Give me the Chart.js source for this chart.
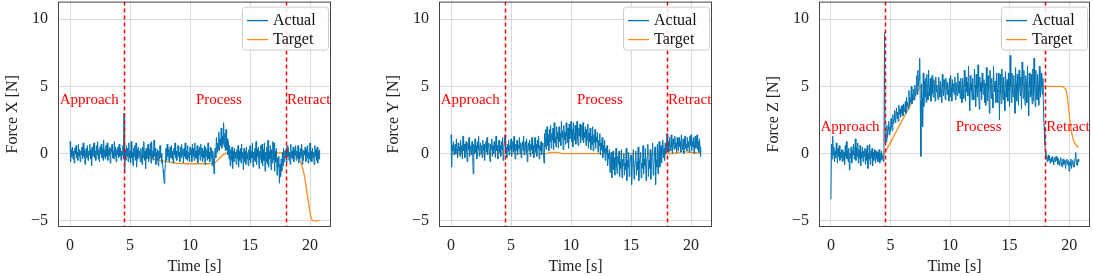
<!DOCTYPE html>
<html>
<head>
  <meta charset="UTF-8" />
  <title>Force tracking</title>
  <script src="https://cdn.jsdelivr.net/npm/chart.js@4.4.1/dist/chart.umd.min.js"></script>
  <style>
    body { margin: 0; background: #fff; width: 1093px; height: 276px; position: relative; overflow: hidden; }
    canvas { position: absolute; top: -18px; }
  </style>
</head>
<body>
  <canvas id="cx" style="left:0px" width="340" height="294"></canvas>
  <canvas id="cy" style="left:381px" width="340" height="294"></canvas>
  <canvas id="cz" style="left:761px" width="332" height="294"></canvas>
<script>
// sample times, 0.05 s apart
const time = Array.from({length: 417}, (_, i) => +(i * 0.05).toFixed(2));
const xTicks = [0, 5, 10, 15, 20];
const yTicks = [-5, 0, 5, 10];
const phaseLines = [4.5, 18.0];

const actualX = [
  0.9, -0.6, 0.3, -0.2, 0.5, -0.4, 0.2, -0.7, 0.4, 0.0, 0.6, -0.3, 0.1, -0.5, 0.7, -0.2, 0.3, -0.6, 0.2, -0.1,
  0.5, -0.4, 0.8, -0.2, 0.3, -0.8, 0.1, 0.4, -0.3, 0.6, -0.5, 0.2, -0.1, 0.7, -0.4, 0.3, -0.9, 0.5, -0.2, 0.4,
  0.8, -0.3, 0.2, -0.5, 0.6, -0.1, 0.9, -0.4, 0.3, -0.6, 0.5, 0.0, 0.7, -0.3, 0.4, -0.5, 1.0, -0.2, 0.3, -0.4,
  0.6, -0.2, 0.8, -0.5, 0.3, -0.1, 0.5, -0.7, 0.4, 0.1, 0.7, -0.3, 0.2, -0.4, 0.9, -0.2, 0.5, -0.6, 0.3, -0.1,
  0.5, -0.3, 0.7, -0.2, 0.4, -0.5, 0.2, -0.1, 0.6, -0.4, 3.0, -1.4, 0.3, -0.5, 0.6, -0.2, 0.4, -0.6, 0.8, -0.3,
  0.2, -0.7, 0.9, -0.3, 0.1, -0.9, 0.4, -0.2, 0.6, -0.5, 0.8, -1.0, 0.3, -0.4, 0.5, -0.1, 0.2, -0.6, 0.4, -0.2,
  -0.8, 0.5, -0.3, 0.9, -0.5, 0.2, -1.1, 0.4, -0.4, 0.1, 0.7, -0.6, 0.3, -0.2, 0.8, -0.7, 0.9, -0.3, 0.2, -0.5,
  1.0, -0.2, 0.4, -0.8, 0.1, -0.5, 0.3, -0.9, 0.2, -0.4, 0.6, -0.3, 0.0, -0.7, -0.5, -1.2, -1.6, -2.2, -1.4, -0.8,
  0.4, -0.5, 0.7, -0.2, 0.3, -0.6, 0.1, 0.5, -0.3, 0.6, -0.4, 0.2, -0.7, 0.4, -0.1, 0.8, -0.3, 0.2, -0.5, 0.3,
  0.6, -0.2, 0.1, -0.6, 0.5, -0.3, 0.7, -0.1, 0.3, -0.7, 0.4, -0.2, 0.8, -0.4, 0.2, -0.5, 0.6, -0.3, 0.1, -0.6,
  0.5, -0.1, 0.3, -0.6, 0.7, -0.2, 0.4, -0.5, 0.8, -0.3, 0.2, -0.4, 0.6, -0.7, 0.3, -0.1, 0.5, -0.5, 0.7, -0.2,
  0.4, -0.6, 0.2, -0.3, 0.6, -0.8, 0.5, -0.2, 0.3, -0.5, 0.8, -0.4, 0.1, -0.6, 0.5, -0.3, 0.4, -0.9, 0.2, -0.4,
  -1.5, -0.2, 0.4, -0.3, 1.2, 0.1, 0.8, 0.3, 1.6, 0.2, 1.1, 0.6, 1.9, 0.4, 1.3, 0.7, 2.3, 0.5, 1.5, 0.2,
  1.8, 0.3, 1.1, -0.1, 0.9, -0.4, 0.6, -0.9, 0.3, -0.5, 0.5, -1.1, 0.2, -0.6, 0.4, -0.3, 0.1, -0.8, 0.3, -0.4,
  0.6, -1.0, 0.2, -0.5, 0.4, -0.7, 0.7, -0.3, 0.1, -1.2, 0.4, -0.6, 0.2, -0.8, 0.5, -0.4, 0.0, -0.9, 0.3, -0.5,
  0.6, -0.7, 0.2, -0.3, 0.8, -1.0, 0.1, -0.5, 0.4, -0.6, 0.9, -0.8, 0.3, -0.2, 0.5, -1.1, 0.2, -0.4, 0.6, -0.7,
  0.7, -0.9, 0.3, -0.5, 0.8, -1.3, 0.1, -0.6, 0.5, -0.8, 1.0, -1.0, 0.2, -0.4, 0.6, -1.2, 0.3, -0.7, 0.9, -0.5,
  0.8, -1.3, 0.2, -0.6, 0.4, -1.6, -0.3, -1.0, -0.2, -2.2, -0.8, -1.7, -0.4, -1.3, 0.1, -0.9, 0.4, -0.6, 0.2, -0.3,
  0.3, -0.7, 0.6, -0.2, 0.4, -0.5, 0.1, -0.8, 0.7, -0.3, 0.2, -0.4, 0.5, -0.6, 0.3, -0.1, 0.6, -0.5, 0.2, -0.3,
  0.6, -0.7, 0.1, -0.4, 0.4, -0.2, 0.7, -0.8, 0.3, -0.5, 0.2, -0.1, 0.5, -0.6, 0.3, -0.3, 0.6, -0.7, 0.1, -0.4,
  0.8, -0.5, 0.2, -0.6, 0.4, -0.3, 0.1, -0.8, 0.6, -0.2, 0.3, -0.5, 0.5, -0.7, 0.2, -0.4, 0.3
];
const targetX = [
  [0, 0], [4.5, 0], [5, -0.05], [6, -0.2], [7, -0.4], [8, -0.6], [9, -0.72], [10, -0.75],
  [11, -0.75], [12, -0.72], [12.4, -0.4], [12.8, -0.05], [13.2, 0.05], [15, 0.05], [17, 0.05],
  [18.5, 0.02], [18.9, -0.2], [19.2, -0.6], [19.5, -1.5], [19.7, -2.6], [19.9, -3.8],
  [20.05, -4.6], [20.2, -4.95], [20.4, -5.0], [20.8, -4.95]
];

const actualY = [
  1.4, -1.0, 0.6, 0.2, 0.9, -0.1, 0.4, 0.7, 0.0, 1.1, 0.3, -0.3, 0.8, 0.2, 0.5, -0.2, 1.0, 0.1, 0.6, -0.4,
  1.3, 0.2, 0.7, -0.3, 0.5, 0.9, 0.1, -0.6, 0.8, 0.3, 1.2, -0.2, 0.4, 0.6, -0.1, 0.9, 0.2, -1.5, 0.7, 0.0,
  1.1, 0.1, 0.6, -0.4, 0.9, 0.3, 1.3, -0.2, 0.5, 0.8, 0.0, 0.6, -0.3, 1.0, 0.2, 0.7, -0.5, 0.4, 0.9, 0.1,
  1.2, -0.1, 0.5, 0.8, 0.2, -0.6, 0.7, 0.3, 1.1, -0.2, 0.6, 0.0, 0.9, 0.4, -0.3, 1.3, 0.2, 0.6, -0.4, 0.8,
  1.0, 0.1, 0.6, -0.2, 0.9, 0.3, 1.2, -0.5, 0.4, 0.8, 1.4, 0.0, 0.5, -0.3, 0.7, 0.2, 1.0, -0.1, 0.6, 0.3,
  1.1, -0.2, 0.5, 0.9, 0.1, 1.3, 0.3, -0.4, 0.7, 0.2, 1.0, -0.1, 0.6, 0.4, 1.2, 0.0, 0.8, -0.3, 0.5, 0.9,
  0.2, 1.3, -0.1, 0.6, 0.9, 0.1, 1.1, -0.6, 0.5, 0.8, 0.2, 1.0, -0.2, 0.7, 0.3, 1.2, 0.0, 0.6, -0.3, 0.9,
  1.2, 0.1, 0.7, -0.2, 1.0, 0.4, 1.3, -0.4, 0.6, 0.2, 0.9, -0.1, 0.5, 0.8, 0.0, -0.7, 1.5, 0.5, 1.8, 0.3,
  2.0, 0.6, 1.4, 0.2, 1.8, 0.9, 2.1, 0.4, 1.5, 1.0, 1.9, 0.3, 2.3, 0.8, 1.2, 0.5, 2.0, 1.1, 1.6, 0.4,
  2.0, 0.9, 1.5, 0.6, 2.4, 1.2, 1.7, 0.3, 2.1, 1.0, 1.6, 0.7, 2.3, 1.3, 0.8, 1.9, 0.4, 2.2, 1.1, 1.6,
  2.4, 0.9, 1.8, 0.5, 2.3, 1.4, 1.0, 2.1, 0.7, 1.6, 2.4, 1.1, 0.6, 1.9, 1.3, 2.2, 0.8, 1.5, 2.1, 1.0,
  2.3, 0.8, 1.6, 1.2, 2.0, 0.6, 1.8, 1.0, 2.2, 0.4, 1.5, 0.9, 1.9, 0.3, 1.3, 0.7, 2.0, 0.2, 1.4, 0.8,
  1.8, 0.4, 1.2, 0.9, 1.6, 0.1, 1.0, 0.6, 1.5, -0.1, 0.8, 0.3, 1.2, -0.3, 0.6, 0.1, 1.0, -0.5, 0.4, 0.0,
  0.6, -0.9, 0.0, -0.4, 0.3, -1.4, -0.5, 0.1, -1.8, -0.7, 0.2, -1.2, -0.3, -1.6, -0.6, 0.4, -1.0, -1.5, -0.2, -0.8,
  0.2, -1.7, -0.6, -1.1, 0.3, -1.8, -0.4, -0.9, 0.0, -1.6, -0.7, -1.2, 0.4, -2.0, -0.5, -1.0, 0.1, -1.7, -0.8, -0.3,
  -0.1, -2.3, -0.9, -0.4, 0.3, -1.9, -1.1, -0.5, 0.2, -1.6, -0.6, -1.2, 0.5, -2.0, -0.8, -0.3, 0.1, -1.8, -0.7, -1.1,
  0.6, -1.5, -0.4, -0.9, 0.4, -2.0, -0.7, -0.2, 0.7, -1.7, -0.5, -1.1, 0.3, -1.9, -0.6, 0.0, 0.8, -1.6, -0.8, -0.3,
  0.5, -2.3, -0.5, -1.0, 0.7, -1.5, -0.3, 0.9, -1.0, -0.2, 0.6, -0.7, 0.2, 1.0, -0.3, 0.4, -0.5, 0.8, 0.0, 0.3,
  1.5, 0.3, 0.9, 0.1, 1.2, 0.6, 0.2, 1.4, 0.5, 0.0, 1.1, 0.7, 0.3, 1.3, 0.4, 0.8, 0.1, 1.2, 0.6, 0.2,
  1.2, 0.5, 0.9, 0.1, 1.4, 0.6, 0.3, 1.1, 0.0, 0.8, 1.3, 0.4, 0.7, 0.2, 1.2, 0.5, 0.9, 0.1, 1.3, 0.6,
  1.4, 0.2, 0.9, 0.5, 1.2, 0.0, 0.8, 1.3, 0.4, 0.6, 1.4, 0.3, 0.9, 0.1, 1.1, 0.5, -0.2
];
const targetY = [
  [0, 0], [7.9, 0], [8.3, 0.1], [8.8, 0.1], [9.3, 0], [18, 0], [18.8, 0.05],
  [19.3, 0.15], [19.8, 0.12], [20.3, 0.05], [20.8, 0.05]
];

const actualZ = [
  -3.4, 0.7, -0.4, 1.3, -0.1, 0.5, -0.6, 0.2, -0.3, 0.8, 0.0, -0.7, 0.4, -0.2, 0.6, -0.5, 0.1, -0.3, 0.3, -0.6,
  0.3, -0.5, 0.1, -0.8, 0.6, -0.2, 0.9, -0.4, 0.2, -0.6, 0.4, -1.2, 0.0, -0.3, 0.5, -0.7, 0.2, -0.1, 0.7, -0.4,
  0.1, 1.1, -0.5, 0.4, -0.2, 0.8, -0.7, 0.3, -0.4, 0.6, -0.9, 0.1, -0.3, 0.5, -0.6, 0.2, -0.2, 0.4, -0.8, 0.3,
  -0.5, 0.6, -1.1, 0.0, -0.4, 0.7, -0.8, 0.2, -0.3, 0.4, -0.9, 0.1, -0.5, 0.3, -0.2, -0.7, 0.2, -0.4, 0.1, -0.6,
  -0.2, 0.3, -0.7, 0.0, -0.5, 0.2, -0.4, -0.1, -0.6, -0.3, 9.0, 0.8, 1.5, 0.9, 2.1, 1.2, 1.8, 2.4, 1.4, 2.0,
  1.6, 2.6, 2.0, 1.7, 2.9, 2.2, 2.5, 3.2, 2.3, 2.8, 3.4, 2.6, 3.1, 2.4, 3.6, 2.9, 3.3, 2.7, 3.5, 3.0,
  3.6, 2.8, 3.7, 3.1, 3.4, 3.9, 3.0, 4.2, 3.5, 3.8, 3.3, 4.7, 3.6, 4.1, 3.8, 5.0, 3.7, 4.4, 4.0, 4.8,
  4.0, 5.1, 4.3, 4.7, 5.8, 4.4, 6.2, 5.0, 5.5, 7.1, 3.9, -0.2, 5.2, 4.1, 2.0, 6.0, 3.5, 5.4, 4.2, 5.6,
  3.8, 5.9, 4.6, 4.0, 6.2, 4.9, 4.3, 5.6, 3.9, 5.2, 5.8, 4.5, 4.2, 5.5, 4.8, 3.9, 5.7, 4.6, 5.1, 4.4,
  4.0, 5.7, 4.9, 4.2, 5.4, 4.7, 3.8, 5.9, 5.0, 4.3, 5.5, 4.8, 4.0, 5.6, 5.1, 4.4, 5.3, 4.7, 3.9, 5.6,
  4.2, 5.8, 4.9, 3.9, 5.5, 4.6, 5.2, 4.4, 5.7, 4.0, 5.3, 4.8, 4.3, 6.0, 5.0, 4.5, 5.4, 4.1, 5.6, 4.7,
  3.8, 5.6, 4.8, 4.1, 6.2, 5.0, 3.9, 5.7, 4.6, 5.3, 4.3, 6.5, 4.9, 3.2, 5.8, 4.7, 5.2, 4.0, 5.6, 4.4,
  4.0, 6.3, 5.1, 3.5, 5.9, 4.8, 4.2, 6.6, 5.0, 3.3, 5.7, 4.6, 5.3, 4.0, 6.0, 4.9, 4.4, 5.5, 3.8, 5.2,
  3.6, 6.4, 5.0, 3.9, 5.8, 4.7, 3.0, 6.2, 5.2, 4.1, 5.6, 4.4, 3.4, 6.5, 5.1, 4.6, 5.4, 3.8, 6.0, 4.8,
  3.8, 6.0, 5.1, 2.5, 5.9, 4.5, 3.7, 6.3, 5.0, 4.0, 5.7, 4.6, 3.2, 6.1, 5.3, 4.2, 5.5, 3.9, 6.0, 4.7,
  3.5, 7.3, 5.0, 3.8, 6.0, 4.4, 4.2, 5.8, 4.9, 3.0, 6.4, 5.2, 3.9, 5.9, 4.6, 3.6, 6.2, 5.0, 4.3, 5.7,
  3.3, 6.8, 5.1, 4.1, 6.2, 4.7, 3.6, 5.8, 5.3, 3.8, 6.5, 4.6, 2.8, 6.0, 5.0, 4.2, 5.9, 4.4, 3.7, 6.3,
  3.9, 7.1, 5.2, 3.5, 6.2, 4.8, 4.0, 5.9, 5.1, 3.6, 6.5, 4.7, 4.2, 6.0, 5.0, 4.4, 5.6, 3.0, 2.0, 0.8,
  0.2, -0.4, -0.2, -0.6, -0.3, -0.1, -0.5, -0.2, -0.7, -0.4, -0.3, -0.6, -0.2, -0.5, -0.8, -0.3, -0.4, -0.6, -0.2, -0.5,
  -0.3, -0.8, -0.4, -0.6, -0.9, -0.5, -0.3, -0.7, -1.0, -0.6, -0.4, -0.8, -0.5, -0.7, -1.1, -0.6, -0.4, -0.8, -0.5, -0.7,
  -1.3, -0.6, -0.9, -0.4, -1.1, -0.7, -0.5, -0.8, -1.0, -0.6, -0.3, 0.1, -0.8, -0.5, -0.9, -0.4, -0.6
];
const targetZ = [
  [0, 0], [4.5, 0], [7.5, 5], [19.3, 5], [19.5, 4.97], [19.7, 4.8], [19.8, 4.5], [19.9, 3.8],
  [20.0, 3.0], [20.1, 2.2], [20.2, 1.6], [20.3, 1.2], [20.45, 0.8], [20.6, 0.6], [20.8, 0.45]
];

const FONT = 'Liberation Serif, Times New Roman, serif';
const BLUE = '#0173b2';
const ORANGE = '#fb8f1e';

const overlay = {
  id: 'overlay',
  afterDatasetsDraw(chart, args, opts) {
    const {ctx, chartArea: a, scales: {x, y}} = chart;
    ctx.save();
    ctx.beginPath();
    ctx.rect(a.left, a.top, a.right - a.left, a.bottom - a.top);
    ctx.clip();
    // phase boundaries
    ctx.strokeStyle = '#ff0000';
    ctx.lineWidth = 1.5;
    ctx.setLineDash([4, 3]);
    phaseLines.forEach(t => {
      const px = Math.round(x.getPixelForValue(t)) + 0.5;
      ctx.beginPath();
      ctx.moveTo(px, a.top);
      ctx.lineTo(px, a.bottom);
      ctx.stroke();
    });
    ctx.setLineDash([]);
    // phase names
    ctx.fillStyle = '#ff0000';
    ctx.font = '15px ' + FONT;
    ctx.textBaseline = 'middle';
    const ly = y.getPixelForValue(opts.labelY);
    ctx.textAlign = 'center';
    ctx.fillText('Approach', x.getPixelForValue(1.6), ly);
    ctx.fillText('Process', x.getPixelForValue(12.4), ly);
    ctx.textAlign = 'left';
    ctx.fillText('Retract', x.getPixelForValue(phaseLines[1]) + 1, ly);
    ctx.restore();
  },
  afterDraw(chart) {
    const {ctx, chartArea: a} = chart;
    ctx.save();
    // frame
    ctx.strokeStyle = '#444';
    ctx.lineWidth = 1;
    ctx.strokeRect(a.left + 0.5, a.top + 0.5, a.right - a.left - 1, a.bottom - a.top - 1);
    // legend box
    const w = 86, h = 43;
    const bx = a.right - w - 3, by = a.top + 5;
    ctx.fillStyle = 'rgba(255,255,255,0.85)';
    ctx.strokeStyle = '#cccccc';
    ctx.beginPath();
    ctx.roundRect(bx + 0.5, by + 0.5, w, h, 3);
    ctx.fill();
    ctx.stroke();
    ctx.font = '16px ' + FONT;
    ctx.textBaseline = 'middle';
    ctx.textAlign = 'left';
    [['Actual', BLUE, 14], ['Target', ORANGE, 33]].forEach(([t, c, dy]) => {
      ctx.strokeStyle = c;
      ctx.lineWidth = 1.3;
      ctx.beginPath();
      ctx.moveTo(bx + 5, by + dy);
      ctx.lineTo(bx + 26, by + dy);
      ctx.stroke();
      ctx.fillStyle = '#111';
      ctx.fillText(t, bx + 31, by + dy);
    });
    ctx.restore();
  }
};

const minus = v => String(v).replace('-', '\u2212');

function makeChart(id, actual, target, yTitle, labelY, padRight, smooth) {
  new Chart(document.getElementById(id), {
    type: 'line',
    data: {
      datasets: [
        {
          label: 'Actual',
          data: actual.map((v, i) => ({x: time[i], y: v})),
          borderColor: BLUE,
          borderWidth: 1,
          pointRadius: 0,
          tension: 0
        },
        {
          label: 'Target',
          data: target.map(p => ({x: p[0], y: p[1]})),
          borderColor: ORANGE,
          borderWidth: 1.3,
          pointRadius: 0,
          tension: smooth ? 0.4 : 0,
          cubicInterpolationMode: smooth ? 'monotone' : 'default'
        }
      ]
    },
    options: {
      responsive: false,
      animation: false,
      layout: {padding: {top: 0, left: 0, right: padRight, bottom: 0}},
      plugins: {
        legend: {display: false},
        tooltip: {enabled: false},
        overlay: {labelY: labelY}
      },
      scales: {
        x: {
          type: 'linear',
          min: -1.0,
          max: 21.75,
          afterBuildTicks: s => { s.ticks = xTicks.map(v => ({value: v})); },
          afterFit: s => { s.height = 49; },
          grid: {color: '#dadada', drawTicks: false},
          border: {display: false},
          ticks: {font: {family: FONT, size: 16}, color: '#222', padding: 9, callback: minus},
          title: {display: true, text: 'Time [s]', font: {family: FONT, size: 16}, color: '#222', padding: 0}
        },
        y: {
          min: -5.45,
          max: 11.3,
          afterBuildTicks: s => { s.ticks = yTicks.map(v => ({value: v})); },
          afterFit: s => { s.width = 58; },
          grid: {color: '#dadada', drawTicks: false},
          border: {display: false},
          ticks: {font: {family: FONT, size: 16}, color: '#222', padding: 10, callback: minus},
          title: {display: true, text: yTitle, font: {family: FONT, size: 16}, color: '#222', padding: 3}
        }
      }
    },
    plugins: [overlay]
  });
}

makeChart('cx', actualX, targetX, 'Force X [N]', 4.0, 9, true);
makeChart('cy', actualY, targetY, 'Force Y [N]', 4.0, 9, true);
makeChart('cz', actualZ, targetZ, 'Force Z [N]', 2.0, 3, false);
</script>
</body>
</html>
